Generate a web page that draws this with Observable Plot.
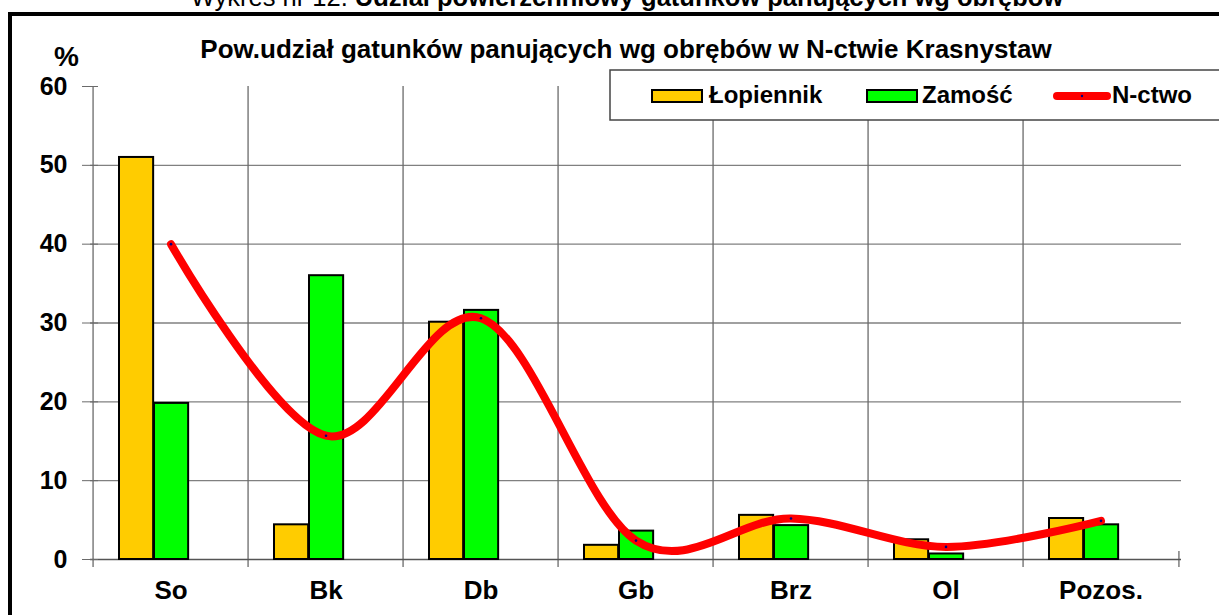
<!DOCTYPE html>
<html><head><meta charset="utf-8">
<script src="https://cdn.jsdelivr.net/npm/d3@7"></script>
<script src="https://cdn.jsdelivr.net/npm/@observablehq/plot@0.6"></script>
<style>
html,body{margin:0;padding:0;background:#fff;}
#chart{position:relative;width:1219px;height:615px;overflow:hidden;}
</style></head><body><div id="chart"></div>
<script>
const categories = ["So", "Bk", "Db", "Gb", "Brz", "Ol", "Pozos."];
const seriesNames = ["Łopiennik", "Zamość", "N-ctwo"];
const lopiennik = [51.0, 4.4, 30.1, 1.8, 5.6, 2.5, 5.2];
const zamosc = [19.8, 36.0, 31.6, 3.6, 4.3, 0.7, 4.4];
const nctwo = [40.0, 15.7, 30.6, 2.4, 5.2, 1.6, 4.9];
const yTicks = [0, 10, 20, 30, 40, 50, 60];
const gridValues = [10, 20, 30, 40, 50];
const topTitleNormal = "Wykres nr 12. ";
const topTitleBold = "Udział powierzchniowy gatunków panujących wg obrębów";
const chartTitle = "Pow.udział gatunków panujących wg obrębów w N-ctwie Krasnystaw";
const yUnit = "%";
const colors = ["#FFCC00", "#00FF00", "#FF0000"];

const W = 1219, H = 615, mL = 90, mR = 38, mT = 86, mB = 56;
const bw = (W - mL - mR) / categories.length;
const rows = categories.map((c, i) => ({cat: c, lop: lopiennik[i], zam: zamosc[i], n: nctwo[i]}));
const font = "'Liberation Sans', Arial, sans-serif";

const plot = Plot.plot({
  width: W, height: H,
  marginLeft: mL, marginRight: mR, marginTop: mT, marginBottom: mB,
  style: {fontFamily: font, background: "white", overflow: "visible"},
  x: {domain: categories, padding: 0, label: null},
  y: {domain: [0, 60], label: null},
  marks: [
    Plot.ruleY(gridValues, {y: d => d, stroke: "#808080", strokeWidth: 1.3}),
    Plot.ruleX(categories, {x: d => d, dx: -bw / 2, y1: -1, y2: 60, stroke: "#6a6a6a", strokeWidth: 1.3}),
    Plot.ruleX([categories[categories.length - 1]], {x: d => d, dx: bw / 2, y1: -1, y2: 1, stroke: "#6a6a6a", strokeWidth: 1.3}),
    Plot.ruleY([0], {stroke: "#555", strokeWidth: 1.5}),
    Plot.axisY({ticks: yTicks, tickSize: 16, dx: 8, tickFormat: () => "", stroke: "#6a6a6a"}),
    Plot.axisY({ticks: yTicks, tickSize: 0, tickPadding: 23, fontSize: 25, fontWeight: "bold", fill: "black", label: null}),
    Plot.axisX({tickSize: 0, tickPadding: 21, fontSize: 26, fontWeight: "bold", fill: "black", label: null}),
    Plot.barY(rows, {x: "cat", y: "lop", fill: colors[0], stroke: "black", strokeWidth: 2, insetLeft: 26, insetRight: bw - 61}),
    Plot.barY(rows, {x: "cat", y: "zam", fill: colors[1], stroke: "black", strokeWidth: 2, insetLeft: 61, insetRight: bw - 96}),
    Plot.line(rows, {x: "cat", y: "n", stroke: colors[2], strokeWidth: 8, curve: "cardinal", strokeLinecap: "round", strokeLinejoin: "round"}),
    Plot.dot(rows, {x: "cat", y: "n", r: 1.3, fill: "#000080"})
  ]
});

const svg = d3.select(plot);
// outer frame
svg.append("rect").attr("x", 10).attr("y", 14).attr("width", 1300).attr("height", 700)
  .attr("fill", "none").attr("stroke", "black").attr("stroke-width", 4);
// top title (cut off at the top edge, as in the reference)
const t0 = svg.append("text").attr("x", 627).attr("y", 6).attr("text-anchor", "middle")
  .style("font-family", font).style("font-size", "25.5px").attr("fill", "black");
t0.append("tspan").text(topTitleNormal);
t0.append("tspan").attr("font-weight", "bold").text(topTitleBold);
// chart title
svg.append("text").attr("x", 626).attr("y", 58).attr("text-anchor", "middle")
  .style("font-family", font).style("font-size", "26px").attr("font-weight", "bold").text(chartTitle);
// unit
svg.append("text").attr("x", 66.5).attr("y", 66).attr("text-anchor", "middle")
  .style("font-family", font).style("font-size", "28px").attr("font-weight", "bold").text(yUnit);
// legend
const lg = svg.append("g");
lg.append("rect").attr("x", 610).attr("y", 70).attr("width", 700).attr("height", 50)
  .attr("fill", "white").attr("stroke", "#444").attr("stroke-width", 1.5);
const items = [
  {sx: 652, tx: 709, kind: "rect"},
  {sx: 867, tx: 922, kind: "rect"},
  {sx: 1057, tx: 1112, kind: "line"}
];
items.forEach((it, i) => {
  if (it.kind === "rect") {
    lg.append("rect").attr("x", it.sx).attr("y", 90).attr("width", 50).attr("height", 12)
      .attr("fill", colors[i]).attr("stroke", "black").attr("stroke-width", 2);
  } else {
    lg.append("line").attr("x1", it.sx).attr("x2", it.sx + 50).attr("y1", 96).attr("y2", 96)
      .attr("stroke", colors[i]).attr("stroke-width", 8).attr("stroke-linecap", "round");
    lg.append("circle").attr("cx", it.sx + 25).attr("cy", 96).attr("r", 1.2).attr("fill", "#000080");
  }
  lg.append("text").attr("x", it.tx).attr("y", 103).attr("text-anchor", "start")
    .style("font-family", font).style("font-size", "24px").attr("font-weight", "bold").text(seriesNames[i]);
});

document.getElementById("chart").appendChild(plot);
</script>
</body></html>
